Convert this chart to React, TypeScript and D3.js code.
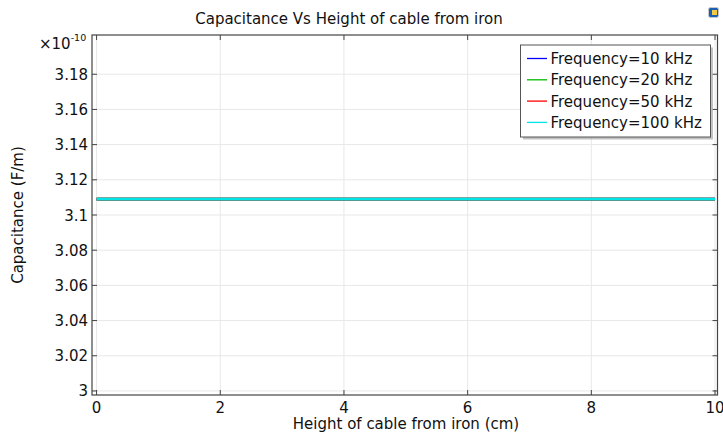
import React from 'react';
import * as d3 from 'd3';

// Data (capacitance in units of 1e-10 F/m)
const heights = [0, 1, 2, 3, 4, 5, 6, 7, 8, 9, 10];
const cap10k = [3.109, 3.109, 3.109, 3.109, 3.109, 3.109, 3.109, 3.109, 3.109, 3.109, 3.109];
const cap20k = [3.109, 3.109, 3.109, 3.109, 3.109, 3.109, 3.109, 3.109, 3.109, 3.109, 3.109];
const cap50k = [3.109, 3.109, 3.109, 3.109, 3.109, 3.109, 3.109, 3.109, 3.109, 3.109, 3.109];
const cap100k = [3.109, 3.109, 3.109, 3.109, 3.109, 3.109, 3.109, 3.109, 3.109, 3.109, 3.109];

const seriesNames = ['Frequency=10 kHz', 'Frequency=20 kHz', 'Frequency=50 kHz', 'Frequency=100 kHz'];
const seriesColors = ['#0000ff', '#00bb00', '#ff0000', '#00e5e5'];
const xTicks = [0, 2, 4, 6, 8, 10];
const yTicks = [3, 3.02, 3.04, 3.06, 3.08, 3.1, 3.12, 3.14, 3.16, 3.18];

const W = 723;
const H = 434;
const FONT = 'DejaVu Sans, sans-serif';
const FS = 15;

const App: React.FC = () => {
  const left = 92, right = 717.5, top = 35, bottom = 395;
  const x = d3.scaleLinear().domain([-0.074, 10.04]).range([left, right]);
  const y = d3.scaleLinear().domain([2.9977, 3.2023]).range([bottom, top]);

  const series = [cap10k, cap20k, cap50k, cap100k];
  const line = d3.line<number>()
    .x((_, i) => x(heights[i]))
    .y(d => y(d));

  const tickLen = 5;
  const axisColor = '#444';
  const gridColor = '#e8e8e8';

  return (
    <svg width={W} height={H} style={{ position: 'absolute', left: 0, top: 0, background: '#fff' }}
      fontFamily={FONT}>
      <rect width={W} height={H} fill="#fff" />

      {/* title */}
      <text x={349} y={24} textAnchor="middle" fontSize={FS} fill="#111">
        Capacitance Vs Height of cable from iron
      </text>

      {/* grid */}
      {xTicks.map(t => (
        <line key={'gx' + t} x1={x(t)} x2={x(t)} y1={top} y2={bottom} stroke={gridColor} strokeWidth={1} />
      ))}
      {yTicks.map(t => (
        <line key={'gy' + t} x1={left} x2={right} y1={y(t)} y2={y(t)} stroke={gridColor} strokeWidth={1} />
      ))}

      {/* series */}
      {series.map((s, i) => (
        <path key={seriesNames[i]} d={line(s) || ''} fill="none" stroke={seriesColors[i]} strokeWidth={2.8} />
      ))}

      {/* frame */}
      <rect x={left} y={top} width={right - left} height={bottom - top} fill="none" stroke={axisColor} strokeWidth={1.2} />

      {/* ticks */}
      {xTicks.map(t => (
        <g key={'tx' + t}>
          <line x1={x(t)} x2={x(t)} y1={bottom} y2={bottom - tickLen} stroke={axisColor} />
          <line x1={x(t)} x2={x(t)} y1={top} y2={top + tickLen} stroke={axisColor} />
          <text x={x(t)} y={bottom + 18} textAnchor="middle" fontSize={FS} fill="#111">{t}</text>
        </g>
      ))}
      {yTicks.map(t => (
        <g key={'ty' + t}>
          <line x1={left} x2={left + tickLen} y1={y(t)} y2={y(t)} stroke={axisColor} />
          <line x1={right} x2={right - tickLen} y1={y(t)} y2={y(t)} stroke={axisColor} />
          <text x={left - 4} y={y(t) + 5.5} textAnchor="end" fontSize={FS} fill="#111">{d3.format('')(t)}</text>
        </g>
      ))}

      {/* exponent */}
      <text x={39} y={49} fontSize={FS} fill="#111">
        ×10
        <tspan fontSize={9.5} dy={-8}>-10</tspan>
      </text>

      {/* axis labels */}
      <text x={406} y={429} textAnchor="middle" fontSize={FS} fill="#111">
        Height of cable from iron (cm)
      </text>
      <text transform={`translate(23,${(top + bottom) / 2}) rotate(-90)`} textAnchor="middle" fontSize={FS} fill="#111">
        Capacitance (F/m)
      </text>

      {/* legend */}
      <rect x={523} y={47.5} width={190} height={92} fill="#9a9a9a" opacity={0.6} />
      <rect x={520.5} y={45} width={190} height={92} fill="#fff" stroke="#555" strokeWidth={1} />
      {seriesNames.map((n, i) => (
        <g key={'lg' + n} transform={`translate(0,${58.5 + i * 21.3})`}>
          <line x1={527} x2={547} y1={0} y2={0} stroke={seriesColors[i]} strokeWidth={1.3} />
          <text x={550.5} y={5.5} fontSize={FS} fill="#111">{n}</text>
        </g>
      ))}

      {/* corner icon */}
      <rect x={708.5} y={7.5} width={10} height={10} rx={2} fill="#1a5fb4" stroke="#c8c8c8" />
      <rect x={712} y={10} width={5} height={5} fill="#f6c945" />
    </svg>
  );
};

export default App;
